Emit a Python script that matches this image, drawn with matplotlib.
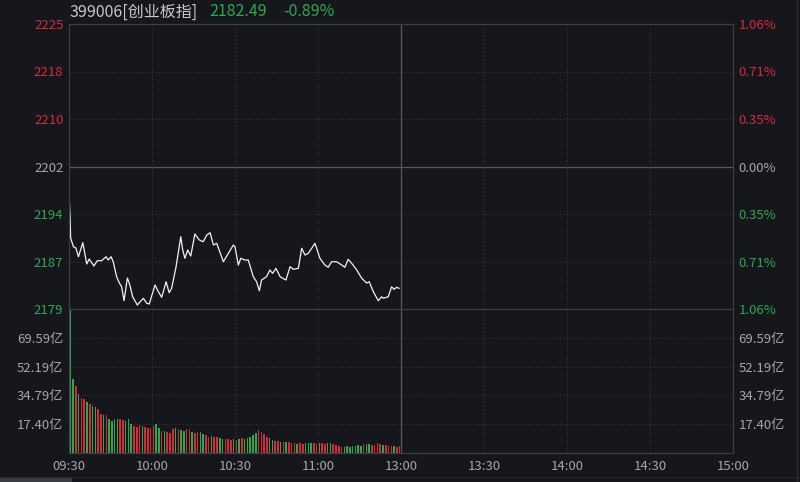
import matplotlib
matplotlib.use("Agg")
import matplotlib.pyplot as plt
from matplotlib.patches import Rectangle
from matplotlib.lines import Line2D
import numpy as np

plt.rcParams['font.family'] = ['Noto Sans CJK SC', 'DejaVu Sans']

# ---------------- data ----------------
title_code = "399006[创业板指]"
last_price = "2182.49"
last_change = "-0.89%"
prev_close = 2202.1
pct_step = 0.3533          # percent per grid step
price_labels = ["2179", "2187", "2194", "2202", "2210", "2218", "2225"]
pct_labels = ["1.06%", "0.71%", "0.35%", "0.00%", "0.35%", "0.71%", "1.06%"]
time_labels = ["09:30", "10:00", "10:30", "11:00", "13:00", "13:30", "14:00", "14:30", "15:00"]
vol_ticks = [17.40, 34.79, 52.19, 69.59]
vol_labels = ["17.40亿", "34.79亿", "52.19亿", "69.59亿"]
vol_max = 86.99

price_minutes = [0.1, 0.4, 0.6, 1.6, 2.5, 3.4, 5.0, 6.4, 7.3, 9.0, 10.2, 11.8, 13.4, 14.2, 15.2,
                 16.0, 17.2, 18.2, 19.0, 19.9, 21.1, 22.0, 23.0, 24.7, 25.7, 26.9, 28.1, 29.0,
                 31.1, 32.3, 33.5, 35.1, 36.2, 37.1, 38.7, 40.4, 41.1, 41.9, 42.9, 44.0, 45.5,
                 47.1, 48.5, 49.8, 51.0, 52.2, 53.4, 55.8, 57.6, 59.4, 60.0, 61.2, 62.1, 63.6,
                 64.8, 66.6, 67.8, 68.8, 69.6, 71.4, 72.6, 73.6, 74.8, 76.3, 78.4, 79.9, 81.1,
                 82.9, 84.1, 85.3, 86.5, 88.9, 90.7, 92.5, 93.7, 94.9, 96.7, 98.6, 99.7, 100.9,
                 102.2, 104.0, 105.8, 107.6, 108.5, 110.0, 111.8, 113.0, 113.6, 115.4, 116.6,
                 117.5, 118.4, 119.3]
price_values = [2196.73, 2193.66, 2190.39, 2188.96, 2188.75, 2187.32, 2189.62, 2186.13, 2186.95,
                2185.80, 2186.67, 2186.67, 2187.32, 2186.78, 2187.32, 2186.50, 2184.05, 2183.02,
                2182.41, 2180.12, 2183.83, 2182.69, 2180.77, 2179.41, 2179.95, 2180.51, 2179.69,
                2179.58, 2182.69, 2181.59, 2180.67, 2183.23, 2181.43, 2182.15, 2185.69, 2190.60,
                2188.42, 2187.06, 2188.42, 2187.44, 2191.04, 2190.06, 2189.78, 2190.88, 2191.26,
                2189.24, 2189.52, 2186.50, 2187.88, 2189.24, 2188.96, 2185.96, 2187.06, 2186.78,
                2186.78, 2184.05, 2183.23, 2181.75, 2183.51, 2184.05, 2185.15, 2184.60, 2185.42,
                2184.05, 2183.51, 2185.69, 2185.26, 2185.42, 2188.70, 2187.60, 2187.88, 2189.52,
                2187.06, 2185.96, 2185.59, 2186.50, 2186.50, 2185.96, 2185.59, 2186.90, 2186.24,
                2185.15, 2183.79, 2183.00, 2183.23, 2181.59, 2180.12, 2180.77, 2180.51, 2180.77,
                2182.41, 2181.98, 2182.31, 2182.15]

volumes = [90, 44.5, 40.4, 35.7, 33.1, 32.7, 31.0, 29.6, 28.2, 27.6,
           26.6, 23.5, 22.9, 22.9, 20.5, 19.4, 20.5, 20.5, 20.5, 20.0,
           19.4, 20.5, 17.4, 16.4, 16.0, 16.8, 16.4, 16.0, 15.4, 15.4,
           16.4, 17.4, 15.4, 13.3, 13.3, 12.7, 12.3, 14.3, 15.4, 14.3,
           13.9, 13.3, 14.8, 14.3, 12.7, 11.9, 12.7, 12.7, 11.3, 10.7,
           9.9, 10.3, 9.9, 9.9, 9.3, 8.6, 8.2, 8.6, 7.8, 8.2,
           7.8, 8.2, 9.3, 8.6, 9.3, 9.9, 10.7, 11.9, 13.9, 12.7,
           11.3, 9.9, 9.3, 7.8, 7.2, 7.2, 6.6, 6.6, 6.6, 6.6,
           6.2, 5.8, 5.2, 5.8, 5.2, 5.8, 6.2, 5.8, 5.8, 5.2,
           5.8, 5.8, 5.2, 6.2, 5.8, 5.2, 4.6, 4.2, 3.8, 3.8,
           4.2, 3.8, 4.2, 4.2, 4.6, 4.2, 5.2, 5.2, 5.2, 5.0,
           4.6, 5.8, 5.2, 5.0, 4.6, 4.2, 4.2, 4.2, 3.8, 4.2]
vol_dir = ("GGRGRRGRGG" "RRGRGGGGRR" "GGGRRRGRRR" "RGGRGRRRGR" "GGRRGRRGGR" "RGRRGGRRRG"
           "RGRGGGGGRR" "RRGGRRGRGR" "RRGRRGGGRR" "GRRGGRRRRG" "GGGGGGRGGR" "RRRGRRRGRR")

# ---------------- style ----------------
BG = "#15171c"
GRID = "#2b2e35"
BORDER = "#3c3f46"
RED = "#d42a3a"
GREEN = "#2ea84c"
GRAY = "#a3a6ab"
FS = 9.5

fig = plt.figure(figsize=(8, 4.82), dpi=100, facecolor=BG)
L, R = 69 / 800, 733 / 800
ax = fig.add_axes([L, 1 - 309 / 482, R - L, (309 - 24) / 482], facecolor=BG)
axv = fig.add_axes([L, 1 - 453 / 482, R - L, (453 - 309) / 482], facecolor=BG, sharex=ax)

steps = np.arange(-3, 4)
price_ticks = prev_close * (1 + steps * pct_step / 100)
tick_x = np.arange(0, 241, 30)

# price panel
ax.set_xlim(0, 240)
ax.set_ylim(price_ticks[0], price_ticks[-1])
for i, y in enumerate(price_ticks):
    if steps[i] == 0:
        ax.axhline(y, color="#55585e", lw=0.9, zorder=1)
    elif 0 < i < len(price_ticks) - 1:
        ax.axhline(y, color=GRID, lw=0.7, ls=(0, (2, 2)), zorder=1)
for t in tick_x[1:-1]:
    if t == 120:
        ax.axvline(t, color="#55585e", lw=0.9, zorder=1)
    else:
        ax.axvline(t, color=GRID, lw=0.7, ls=(0, (2, 2)), zorder=1)
ax.plot(price_minutes, price_values, color="#f2f2f2", lw=0.9, zorder=3)

ax.set_yticks(price_ticks)
ax.set_yticklabels(price_labels)
ax.tick_params(axis='y', length=0, pad=4, labelsize=FS)
ax.tick_params(axis='x', length=0, labelbottom=False)
for lab, s in zip(ax.get_yticklabels(), steps):
    lab.set_color(RED if s > 0 else (GREEN if s < 0 else GRAY))
axr = ax.twinx()
axr.set_ylim(ax.get_ylim())
axr.set_yticks(price_ticks)
axr.set_yticklabels(pct_labels)
axr.tick_params(axis='y', length=0, pad=4, labelsize=FS)
for lab, s in zip(axr.get_yticklabels(), steps):
    lab.set_color(RED if s > 0 else (GREEN if s < 0 else GRAY))
for a in (ax, axr):
    for sp in a.spines.values():
        sp.set_color(BORDER)
        sp.set_linewidth(0.8)

# volume panel
axv.set_ylim(0, vol_max)
for y in vol_ticks:
    axv.axhline(y, color=GRID, lw=0.7, ls=(0, (2, 2)), zorder=1)
for t in tick_x[1:-1]:
    if t == 120:
        axv.axvline(t, color="#55585e", lw=0.9, zorder=1)
    else:
        axv.axvline(t, color=GRID, lw=0.7, ls=(0, (2, 2)), zorder=1)
xs = np.arange(len(volumes)) + 0.5
cols = [RED if d == "R" else GREEN for d in vol_dir]
axv.bar(xs, volumes, width=0.55, color=cols, zorder=2, linewidth=0)
axv.set_yticks(vol_ticks)
axv.set_yticklabels(vol_labels)
axv.tick_params(axis='y', length=0, pad=4, labelsize=FS, labelcolor=GRAY)
axv.set_xticks(tick_x)
axv.set_xticklabels(time_labels)
axv.tick_params(axis='x', length=0, pad=5, labelsize=FS, labelcolor=GRAY)
axvr = axv.twinx()
axvr.set_ylim(axv.get_ylim())
axvr.set_yticks(vol_ticks)
axvr.set_yticklabels(vol_labels)
axvr.tick_params(axis='y', length=0, pad=4, labelsize=FS, labelcolor=GRAY)
for a in (axv, axvr):
    for sp in a.spines.values():
        sp.set_color(BORDER)
        sp.set_linewidth(0.8)

# frame decorations
fig.add_artist(Line2D([797 / 800, 797 / 800], [0, 1], transform=fig.transFigure,
                      color="#2c2f36", lw=0.8))
fig.add_artist(Line2D([0, 1], [1 - 477 / 482, 1 - 477 / 482], transform=fig.transFigure,
                      color="#24272d", lw=0.8))
fig.add_artist(Rectangle((0, 0), 72 / 800, 4 / 482, transform=fig.transFigure,
                         facecolor="#3a3d44", edgecolor="none"))

# title
fig.text(70 / 800, 1 - 12 / 482, title_code, color="#c8c8c8", fontsize=11.5, va="center", ha="left")
fig.text(209 / 800, 1 - 12 / 482, last_price, color=GREEN, fontsize=11.5, va="center", ha="left")
fig.text(283 / 800, 1 - 12 / 482, last_change, color=GREEN, fontsize=11.5, va="center", ha="left")

fig.savefig("out.png", dpi=100, facecolor=BG)
